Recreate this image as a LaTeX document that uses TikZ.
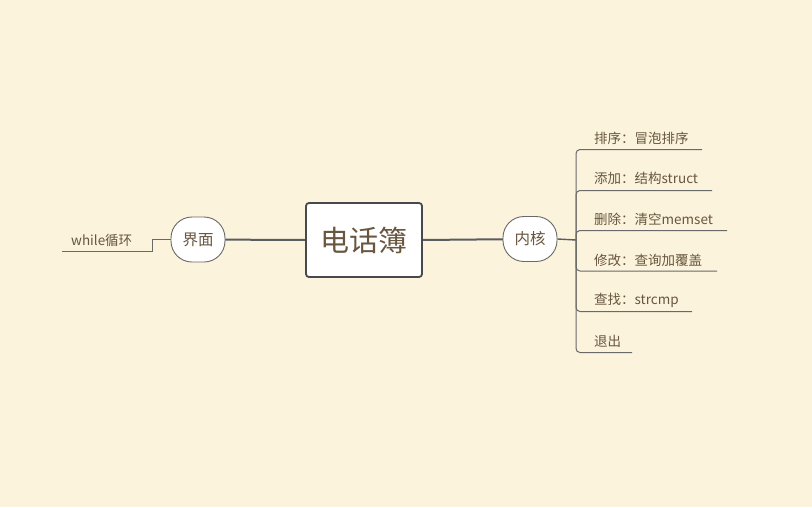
\documentclass[tikz,border=0pt]{standalone}
\usepackage{fontspec}
\setmainfont{Noto Sans CJK SC}
\definecolor{bg}{RGB}{251,243,220}
\definecolor{txt}{RGB}{104,86,62}
\definecolor{edge}{RGB}{70,74,78}
\definecolor{thin}{RGB}{105,105,105}
\begin{document}
\begin{tikzpicture}[x=1pt,y=-1pt,
  mainbox/.style={draw=edge,line width=1.8pt,fill=white,rounded corners=3pt,minimum width=116pt,minimum height=74pt,inner sep=0pt,text=txt,font=\fontsize{29}{31}\selectfont},
  topic/.style={draw=thin,line width=0.9pt,fill=white,rounded corners=21pt,minimum width=54pt,minimum height=45pt,inner sep=0pt,text=txt,font=\fontsize{15.5}{17}\selectfont},
  leaf/.style={anchor=west,inner sep=0pt,text=txt,font=\fontsize{13.5}{15}\selectfont},
  mainline/.style={draw=edge!90,line width=2pt},
  branch/.style={draw=thin,line width=1pt,rounded corners=4pt}]
\fill[bg] (0,0) rectangle (812,507);
\useasboundingbox (0,0) rectangle (812,507);

% connectors first (under the nodes)
\coordinate (cw) at (306,240);
\coordinate (ce) at (422,240);
\coordinate (lc) at (198,239.5);
\coordinate (rc) at (530,239);
\draw[mainline] (cw) -- (lc);
\draw[mainline] (ce) -- (rc);

\node[mainbox] (c) at (364,240) {电话簿};
\node[topic] (l) at (lc) {界面};
\node[topic] (r) at (rc) {内核};

% left branch
\node[leaf] (w) at (71,240) {while循环};
\coordinate (wj) at (152,251);
\coordinate (we) at (62,251);
\draw[draw=thin,line width=1pt] (l.west) -- (l.west -| wj) -- (wj) -- (we);

% right branches
\coordinate (sp) at (576,240);
\draw[mainline,line width=1.4pt] (r.east) -- (sp);

\node[leaf] (k1) at (594,138) {排序：冒泡排序};
\node[leaf] (k2) at (594,178.5) {添加：结构struct};
\node[leaf] (k3) at (594,219) {删除：清空memset};
\node[leaf] (k4) at (594,260) {修改：查询加覆盖};
\node[leaf] (k5) at (594,300.5) {查找：strcmp};
\node[leaf] (k6) at (594,341) {退出};

\coordinate (e1) at (702,149.5);
\coordinate (e2) at (712,190.5);
\coordinate (e3) at (727,230.5);
\coordinate (e4) at (717,271);
\coordinate (e5) at (692,311.5);
\coordinate (e6) at (632,352.5);

\foreach \e in {e1,e2,e3,e4,e5,e6}{
  \draw[branch] (sp) |- (\e);
}
\end{tikzpicture}
\end{document}
